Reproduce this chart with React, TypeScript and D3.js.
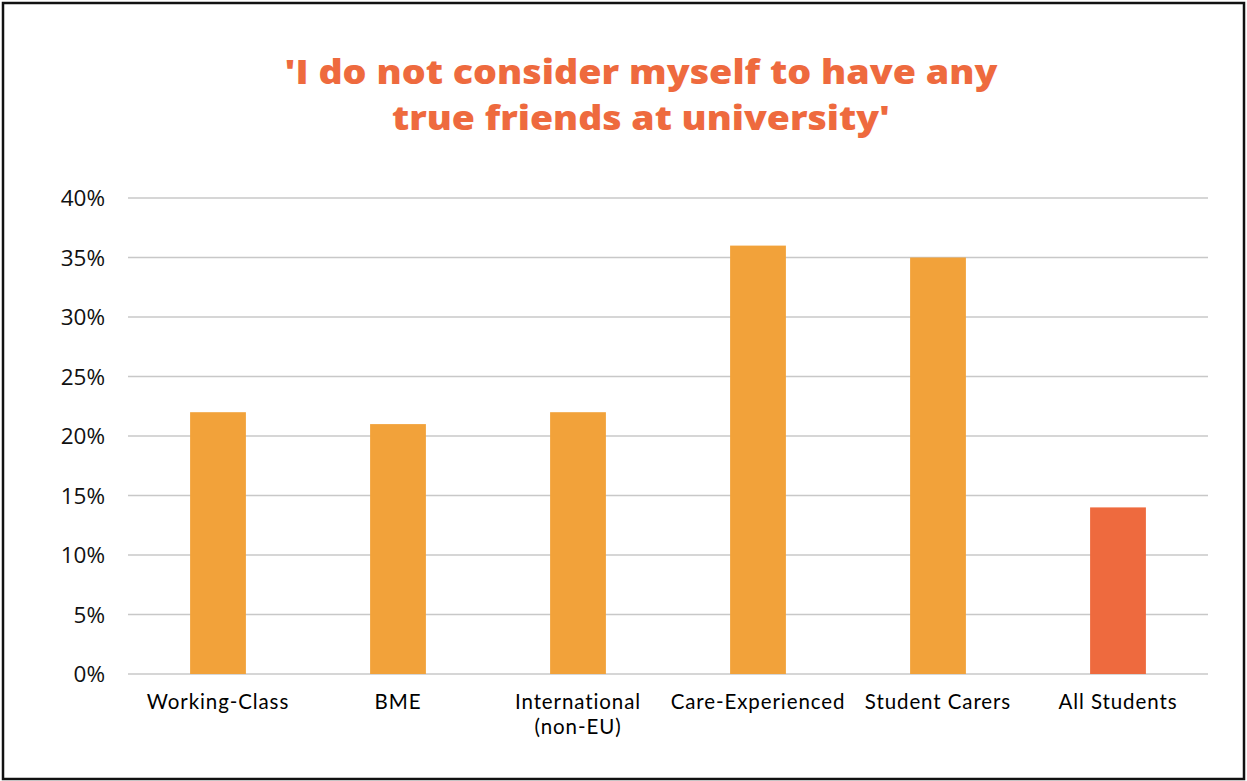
import React from "react";
import * as d3 from "d3";

const categories: string[][] = [
  ["Working-Class"],
  ["BME"],
  ["International", "(non-EU)"],
  ["Care-Experienced"],
  ["Student Carers"],
  ["All Students"],
];
const values: number[] = [22, 21, 22, 36, 35, 14];
const barColors: string[] = ["#F2A23A", "#F2A23A", "#F2A23A", "#F2A23A", "#F2A23A", "#EE6A3E"];
const yTicks: number[] = [0, 5, 10, 15, 20, 25, 30, 35, 40];
const titleLines: string[] = ["'I do not consider myself to have any", "true friends at university'"];
const titleWidths: number[] = [713, 498];

const W = 1247;
const H = 781;
const plot = { left: 128, right: 1208, top: 198, bottom: 674 };

export default function App() {
  const keys = categories.map((c) => c.join(" "));
  const x = d3.scaleBand<string>().domain(keys).range([plot.left, plot.right]).paddingInner(0.69).paddingOuter(0.345);
  const y = d3.scaleLinear().domain([0, 40]).range([plot.bottom, plot.top]);
  const font = "'Open Sans', Lato, sans-serif";
  const labelFont = "Lato, 'Open Sans', sans-serif";
  return (
    <svg width={W} height={H} style={{ position: "absolute", left: 0, top: 0 }}>
      <rect x={0} y={0} width={W} height={H} fill="#fff" />
      <rect x={3} y={3} width={1241} height={776} fill="none" stroke="#111" strokeWidth={2.5} />
      {titleLines.map((t, i) => (
        <text key={i} x={641} y={84 + i * 46} textAnchor="middle" fill="#EE6A3E" fontFamily={font} fontWeight={800} fontSize={33.5}
          textLength={titleWidths[i]} lengthAdjust="spacingAndGlyphs">
          {t}
        </text>
      ))}
      {yTicks.map((t) => (
        <g key={t}>
          <line x1={plot.left} x2={plot.right} y1={y(t)} y2={y(t)} stroke="#c8c8c8" strokeWidth={1.5} />
          <text x={105} y={y(t) + 8} textAnchor="end" fontFamily={font} fontSize={22.5} fill="#111">
            {t}%
          </text>
        </g>
      ))}
      {keys.map((k, i) => (
        <rect key={k} x={x(k)} y={y(values[i])} width={x.bandwidth()} height={y(0) - y(values[i])} fill={barColors[i]} />
      ))}
      {categories.map((lines, i) =>
        lines.map((l, j) => (
          <text key={`${i}-${j}`} x={(x(keys[i]) as number) + x.bandwidth() / 2} y={709 + j * 25} textAnchor="middle"
            fontFamily={labelFont} fontSize={20.5} letterSpacing={0.9} fill="#000">
            {l}
          </text>
        ))
      )}
    </svg>
  );
}
